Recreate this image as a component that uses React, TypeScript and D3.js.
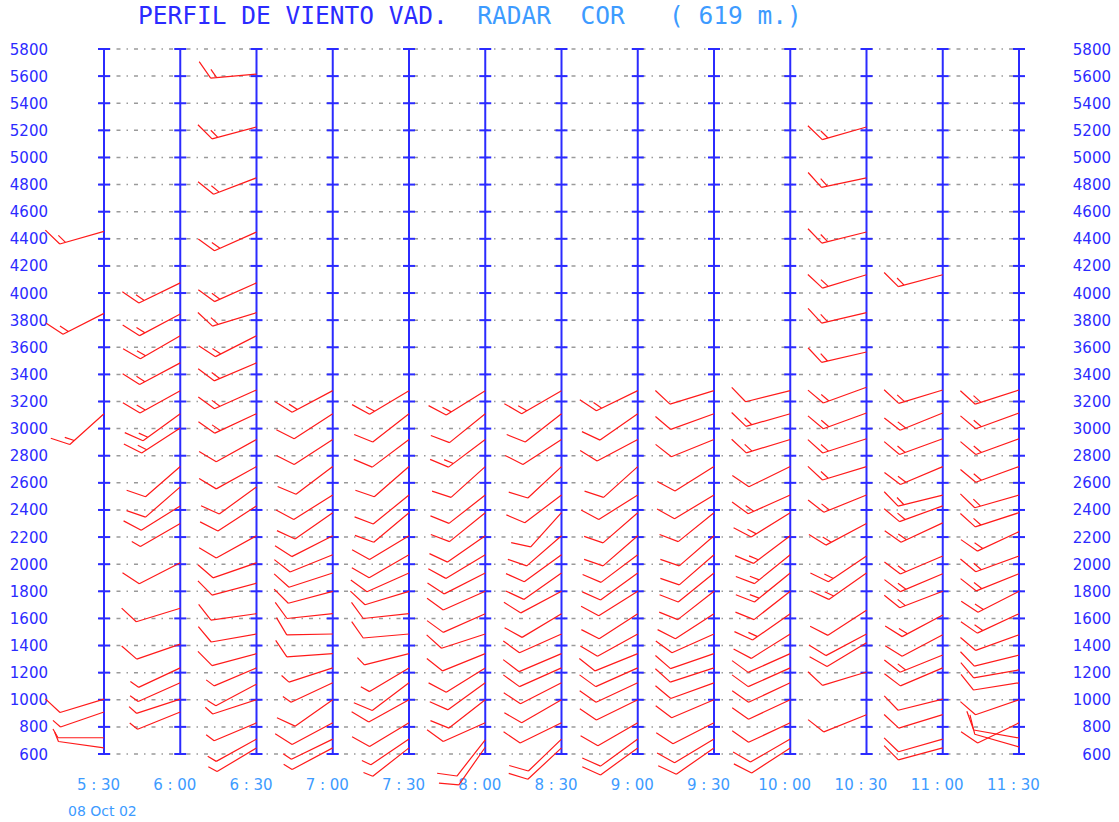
import React, { useEffect, useRef } from 'react';
import * as d3 from 'd3';

// scan times and their axis labels
const times = ['05:30', '06:00', '06:30', '07:00', '07:30', '08:00', '08:30', '09:00', '09:30', '10:00', '10:30', '11:00', '11:30'];
const timeLabels = ['5 : 30', '6 : 00', '6 : 30', '7 : 00', '7 : 30', '8 : 00', '8 : 30', '9 : 00', '9 : 30', '10 : 00', '10 : 30', '11 : 00', '11 : 30'];
const heightTicks = [600, 800, 1000, 1200, 1400, 1600, 1800, 2000, 2200, 2400, 2600, 2800, 3000, 3200, 3400, 3600, 3800, 4000, 4200, 4400, 4600, 4800, 5000, 5200, 5400, 5600, 5800];

// [height m, direction deg, speed kt]
const w0530 = [[4455, 254, 15], [3850, 243, 15], [3110, 228, 15], [1005, 253, 10], [910, 251, 5], [720, 270, 5], [645, 278, 5]];
const w0600 = [[4075, 244, 15], [3845, 242, 15], [3685, 240, 15], [3485, 242, 15], [3280, 241, 15], [3110, 234, 15], [3005, 237, 15], [2720, 229, 10], [2570, 229, 10], [2430, 238, 10], [2300, 240, 5], [2010, 243, 10], [1675, 253, 10], [1410, 251, 10], [1235, 245, 5], [1125, 246, 5], [1005, 252, 5], [910, 248, 5]];
const w0630 = [[5615, 265, 15], [5225, 255, 15], [4850, 249, 15], [4450, 246, 15], [4075, 246, 15], [3855, 253, 15], [3685, 243, 15], [3485, 247, 15], [3285, 246, 15], [3110, 245, 15], [2920, 241, 10], [2720, 241, 10], [2570, 234, 10], [2430, 237, 10], [2210, 241, 10], [2010, 251, 10], [1860, 255, 10], [1635, 262, 10], [1485, 260, 10], [1340, 255, 10], [1235, 247, 5], [1115, 242, 5], [1000, 252, 5], [830, 247, 5], [710, 241, 5], [645, 239, 5]];
const w0700 = [[3280, 242, 15], [3110, 237, 10], [2920, 237, 10], [2720, 233, 10], [2510, 238, 10], [2380, 235, 10], [2210, 243, 10], [2070, 248, 10], [1935, 252, 10], [1800, 255, 10], [1635, 264, 10], [1485, 269, 10], [1340, 266, 10], [1235, 252, 5], [1125, 245, 5], [1000, 235, 10], [830, 242, 10], [710, 244, 5], [645, 242, 5]];
const w0730 = [[3280, 239, 15], [3110, 232, 10], [2920, 233, 10], [2720, 229, 10], [2510, 231, 10], [2380, 230, 10], [2210, 239, 10], [2070, 240, 10], [1935, 246, 10], [1800, 253, 10], [1635, 264, 10], [1485, 265, 10], [1340, 256, 5], [1235, 239, 5], [1125, 233, 10], [1000, 241, 10], [830, 239, 10], [710, 236, 5], [645, 232, 5]];
const w0800 = [[3280, 238, 15], [3110, 231, 10], [2920, 233, 15], [2720, 228, 10], [2510, 232, 10], [2380, 231, 10], [2210, 235, 10], [2070, 239, 10], [1935, 243, 10], [1800, 246, 10], [1635, 246, 10], [1485, 252, 10], [1340, 248, 10], [1235, 238, 10], [1125, 234, 10], [1000, 232, 10], [830, 246, 10], [705, 218, 10], [650, 215, 10]];
const w0830 = [[3280, 240, 15], [3110, 232, 10], [2920, 237, 10], [2720, 227, 10], [2510, 233, 10], [2380, 222, 10], [2210, 229, 10], [2070, 234, 10], [1935, 235, 10], [1800, 242, 10], [1635, 239, 10], [1485, 246, 10], [1340, 247, 10], [1235, 246, 10], [1125, 243, 10], [1000, 240, 10], [830, 244, 10], [710, 226, 10], [645, 227, 10]];
const w0900 = [[3280, 244, 15], [3110, 235, 10], [2920, 242, 10], [2720, 228, 10], [2510, 238, 10], [2380, 229, 10], [2210, 229, 10], [2070, 233, 10], [1935, 234, 10], [1800, 238, 10], [1635, 237, 10], [1485, 241, 10], [1340, 248, 10], [1235, 246, 10], [1125, 245, 10], [1000, 244, 10], [830, 240, 10], [710, 234, 10], [645, 234, 10]];
const w0930 = [[3280, 253, 10], [3110, 250, 10], [2920, 248, 10], [2720, 238, 10], [2510, 239, 10], [2380, 231, 10], [2210, 229, 10], [2070, 229, 10], [1935, 231, 10], [1800, 232, 10], [1635, 237, 10], [1485, 246, 10], [1340, 251, 10], [1235, 252, 10], [1125, 250, 10], [1000, 247, 10], [830, 243, 10], [710, 239, 10], [645, 235, 10]];
const w1000 = [[3280, 256, 10], [3110, 254, 15], [2920, 253, 15], [2720, 244, 10], [2510, 246, 15], [2380, 238, 15], [2210, 233, 15], [2070, 231, 15], [1935, 231, 15], [1800, 232, 10], [1635, 235, 15], [1485, 238, 10], [1340, 246, 10], [1235, 246, 10], [1125, 245, 10], [1000, 245, 10], [830, 245, 10], [710, 240, 10], [645, 237, 10]];
const w1030 = [[5225, 254, 15], [4850, 258, 15], [4450, 256, 15], [4135, 253, 15], [3855, 257, 15], [3565, 257, 15], [3305, 250, 15], [3115, 250, 15], [2925, 252, 15], [2720, 253, 15], [2510, 248, 15], [2300, 242, 15], [2060, 236, 15], [1935, 235, 15], [1660, 237, 10], [1485, 242, 10], [1420, 239, 10], [1205, 253, 10], [890, 248, 10]];
const w1100 = [[4135, 255, 15], [3285, 253, 15], [3115, 248, 15], [2925, 250, 15], [2720, 247, 15], [2510, 256, 15], [2430, 250, 15], [2305, 245, 15], [2060, 247, 15], [1930, 247, 15], [1800, 249, 15], [1625, 242, 15], [1480, 242, 10], [1330, 248, 15], [1235, 247, 10], [1005, 256, 10], [890, 253, 10], [710, 254, 10], [645, 255, 10]];
const w1130 = [[3285, 252, 15], [3115, 250, 15], [2925, 250, 15], [2720, 250, 15], [2510, 254, 15], [2380, 252, 15], [2240, 245, 15], [2060, 250, 15], [1930, 248, 15], [1800, 243, 15], [1635, 245, 15], [1480, 250, 10], [1330, 256, 10], [1220, 260, 10], [1125, 261, 10], [1000, 251, 10], [830, 244, 10], [718, 280, 10], [652, 286, 10]];

const profiles = [w0530, w0600, w0630, w0700, w0730, w0800, w0830, w0900, w0930, w1000, w1030, w1100, w1130];

const App = () => {
  const ref = useRef<SVGSVGElement>(null);

  useEffect(() => {
    const svg = d3.select(ref.current);
    svg.selectAll('*').remove();

    const parse = d3.timeParse('%H:%M');
    const x = d3.scaleTime()
      .domain([parse(times[0]) as Date, parse(times[times.length - 1]) as Date])
      .range([104, 1019]);
    const y = d3.scaleLinear().domain([600, 5800]).range([754, 49]);

    const blue = '#2b2bff';
    const light = '#3d9bff';

    // title
    const title = svg.append('text')
      .attr('x', 138)
      .attr('y', 24)
      .style('font-family', '"DejaVu Sans Mono", monospace')
      .style('font-size', '24.5px')
      .style('white-space', 'pre');
    title.append('tspan').attr('fill', blue).text('PERFIL DE VIENTO VAD.  ');
    title.append('tspan').attr('fill', light).text('RADAR  COR   ( 619 m.)');

    // dotted grid lines
    svg.append('g')
      .selectAll('line')
      .data(heightTicks)
      .join('line')
      .attr('x1', 99)
      .attr('x2', 1025)
      .attr('y1', d => y(d))
      .attr('y2', d => y(d))
      .attr('stroke', '#9a9a9a')
      .attr('stroke-width', 1.5)
      .attr('stroke-dasharray', '4 6 1.5 6');

    // height labels, both sides
    const lab = svg.append('g')
      .style('font-family', '"DejaVu Sans", sans-serif')
      .style('font-size', '15px')
      .attr('fill', blue)
      .attr('text-anchor', 'end');
    [48, 1111].forEach(lx => {
      lab.append('g')
        .selectAll('text')
        .data(heightTicks)
        .join('text')
        .attr('x', lx)
        .attr('y', d => y(d) + 5.5)
        .text(d => d);
    });

    // time columns
    const cols = svg.append('g');
    times.forEach((t, i) => {
      const cx = x(parse(t) as Date);
      cols.append('line')
        .attr('x1', cx).attr('x2', cx)
        .attr('y1', y(5800)).attr('y2', y(600))
        .attr('stroke', blue)
        .attr('stroke-width', 2);
      cols.append('g')
        .selectAll('line')
        .data(heightTicks)
        .join('line')
        .attr('x1', cx - 6).attr('x2', cx + 6)
        .attr('y1', d => y(d)).attr('y2', d => y(d))
        .attr('stroke', blue)
        .attr('stroke-width', 2);
      cols.append('text')
        .attr('x', cx - 5.5)
        .attr('y', 790)
        .attr('text-anchor', 'middle')
        .attr('fill', light)
        .style('font-family', '"DejaVu Sans", sans-serif')
        .style('font-size', '15px')
        .text(timeLabels[i]);
    });

    svg.append('text')
      .attr('x', 68)
      .attr('y', 816)
      .attr('fill', light)
      .style('font-family', '"DejaVu Sans", sans-serif')
      .style('font-size', '14px')
      .text('08 Oct 02');

    // wind barbs: staff points to where the wind comes from
    const L = 46, F = 20, HF = 10, gap = 6;
    const barbs = svg.append('g');
    profiles.forEach((prof, i) => {
      const x0 = x(parse(times[i]) as Date);
      prof.forEach(([h, dir, spd]) => {
        const y0 = y(h);
        const a = (dir * Math.PI) / 180;
        const ux = Math.sin(a), uy = -Math.cos(a);
        const ex = x0 + L * ux, ey = y0 + L * uy;
        const th = Math.atan2(uy, ux) + Math.PI / 3;
        const fx = Math.cos(th), fy = Math.sin(th);
        const p = d3.path();
        p.moveTo(x0, y0);
        p.lineTo(ex, ey);
        let rest = spd, k = 0;
        while (rest >= 10) {
          const px = ex - k * gap * ux, py = ey - k * gap * uy;
          p.moveTo(px, py);
          p.lineTo(px + F * fx, py + F * fy);
          rest -= 10;
          k++;
        }
        if (rest >= 5) {
          const px = ex - k * gap * ux, py = ey - k * gap * uy;
          p.moveTo(px, py);
          p.lineTo(px + HF * fx, py + HF * fy);
        }
        barbs.append('path')
          .attr('d', p.toString())
          .attr('fill', 'none')
          .attr('stroke', '#ff1a1a')
          .attr('stroke-width', 1.2);
      });
    });
  }, []);

  return (
    <svg
      ref={ref}
      width={1119}
      height={822}
      style={{ position: 'absolute', left: 0, top: 0, background: '#fff' }}
    />
  );
};

export default App;
